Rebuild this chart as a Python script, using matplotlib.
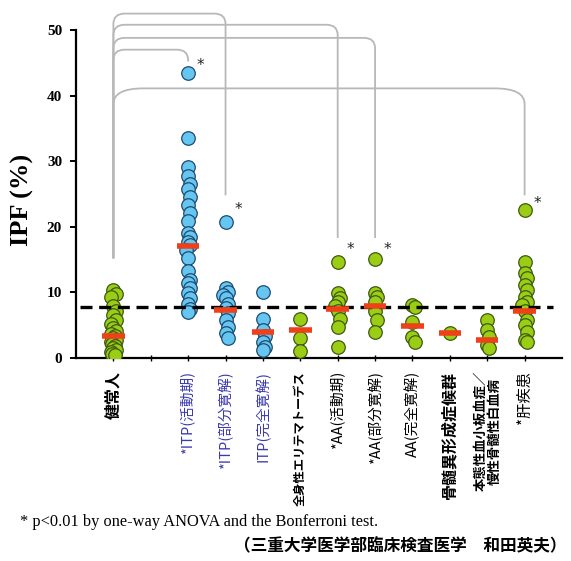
import matplotlib
matplotlib.use("Agg")
import matplotlib.pyplot as plt
from matplotlib.path import Path
from matplotlib.patches import PathPatch

# ---------------- data ----------------
categories = ["健常人", "", "*ITP(活動期)", "*ITP(部分寛解)", "ITP(完全寛解)",
              "全身性エリテマトーデス", "*AA(活動期)", "*AA(部分寛解)", "AA(完全寛解)",
              "骨髄異形成症候群", "本態性血小板血症／\n慢性骨髄性白血病", "*肝疾患"]

healthy = [10.3, 9.8, 9.3, 8.0, 7.2, 6.5, 5.8, 5.2, 4.6, 4.1, 3.7, 3.3, 3.0, 2.7,
           2.4, 2.1, 1.8, 1.5, 1.2, 0.9, 0.6, 0.4]
itp_active = [43.5, 33.5, 29.1, 27.7, 26.6, 25.7, 24.6, 23.3, 22.1, 20.9, 19.1, 18.5,
              17.7, 17.2, 16.5, 15.2, 13.2, 11.9, 11.4, 10.6, 9.9, 9.1, 8.3, 7.5, 7.0]
itp_partial = [20.7, 10.6, 10.1, 9.6, 9.1, 8.3, 7.6, 6.9, 5.8, 4.8, 3.8, 3.0]
itp_complete = [10.1, 6.0, 4.3, 3.3, 2.5, 1.7, 1.2]
sle = [6.0, 3.0, 1.1]
aa_active = [14.7, 9.9, 9.1, 8.5, 7.9, 7.1, 6.0, 4.8, 1.7]
aa_partial = [15.1, 9.9, 9.3, 8.6, 7.1, 5.8, 4.0]
aa_complete = [8.1, 7.8, 5.5, 3.2, 2.5]
mds = [3.8]
et_cml = [5.8, 4.3, 3.2, 2.0, 1.5]
liver = [22.6, 14.7, 12.9, 12.2, 11.1, 10.4, 9.3, 8.6, 8.1, 7.1, 5.8, 5.0, 4.0, 2.7, 2.5]

group_positions = [1, 3, 4, 5, 6, 7, 8, 9, 10, 11, 12]
group_values = [healthy, itp_active, itp_partial, itp_complete, sle, aa_active,
                aa_partial, aa_complete, mds, et_cml, liver]
group_means = [3.3, 17.1, 7.3, 4.0, 4.3, 7.4, 7.9, 4.9, 3.8, 2.7, 7.1]
group_is_itp = [False, True, True, True, False, False, False, False, False, False, False]

cutoff = 7.7
y_ticks = [0, 10, 20, 30, 40, 50]

# significance brackets from 健常人 (position 1)
bracket_targets = [4, 7, 8, 3, 12]
bracket_heights = [52.5, 50.8, 48.8, 47.0, 41.1]
bracket_ends = [24.8, 18.3, 18.3, 45.2, 24.8]
healthy_line_bottom = 15.2
star_positions = [3, 4, 7, 8, 12]
star_heights = [44.6, 22.6, 16.6, 16.6, 23.6]

# ---------------- styling ----------------
GREEN = "#9acd14"
GREEN_EDGE = "#3d5a12"
BLUE = "#66c6f2"
BLUE_EDGE = "#1f4a6e"
RED = "#f0401a"
GRAY = "#b8b8b8"
ITP_TEXT = "#3b3bb0"

W, H = 571, 561
fig = plt.figure(figsize=(W / 100, H / 100), dpi=100)
ax_left, ax_right, ax_bottom = 76, 562, 358
ax = fig.add_axes([ax_left / W, 1 - ax_bottom / H, (ax_right - ax_left) / W, ax_bottom / H])
ax.set_xlim(0, 13)
ymax = 358 / 6.56
ax.set_ylim(0, ymax)


def swarm_offsets(vals, step=0.06, gap=1.3):
    pattern = [0, step, -step, step * 0.5, -step * 0.5, step * 1.5, -step * 1.5]
    offs = []
    for i, v in enumerate(vals):
        used = [offs[j] for j in range(i) if abs(vals[j] - v) < gap]
        for p in pattern:
            if all(abs(p - u) > 1e-9 for u in used):
                offs.append(p)
                break
        else:
            offs.append(0)
    return offs


for pos, vals, is_itp in zip(group_positions, group_values, group_is_itp):
    offs = swarm_offsets(vals)
    xs = [pos + o for o in offs]
    ax.scatter(xs, vals, s=95, c=BLUE if is_itp else GREEN,
               edgecolors=BLUE_EDGE if is_itp else GREEN_EDGE, linewidths=0.9, zorder=3)

for pos, m in zip(group_positions, group_means):
    ax.plot([pos - 0.3, pos + 0.3], [m, m], color=RED, lw=4, solid_capstyle="butt", zorder=5)

ax.plot([0.1, 12.75], [cutoff, cutoff], color="black", lw=2.4, dashes=(3.6, 2.0), zorder=4)


def bracket(x1, x2, h, y_end, rx=0.3, ry=1.6):
    verts = [(x1, healthy_line_bottom), (x1, h - ry), (x1, h), (x1 + rx, h),
             (x2 - rx, h), (x2, h), (x2, h - ry), (x2, y_end)]
    codes = [Path.MOVETO, Path.LINETO, Path.CURVE3, Path.CURVE3,
             Path.LINETO, Path.CURVE3, Path.CURVE3, Path.LINETO]
    ax.add_patch(PathPatch(Path(verts, codes), fill=False, edgecolor=GRAY, lw=1.3,
                           zorder=1, clip_on=False))


for tgt, h, ye in zip(bracket_targets, bracket_heights, bracket_ends):
    if tgt == 12:
        bracket(1, tgt, h, ye, rx=0.8, ry=2.4)
    else:
        bracket(1, tgt, h, ye)

for sp, sh in zip(star_positions, star_heights):
    ax.text(sp + 0.33, sh, "*", fontsize=11, ha="center", va="center",
            family="DejaVu Sans", color="#222222")

# axes styling
for s in ["top", "right"]:
    ax.spines[s].set_visible(False)
ax.spines["left"].set_bounds(0, 50)
ax.spines["left"].set_linewidth(1.6)
ax.spines["bottom"].set_linewidth(1.6)
ax.set_yticks(y_ticks)
ax.set_yticklabels([str(t) for t in y_ticks], family="Liberation Serif",
                   fontweight="bold", fontsize=11)
ax.tick_params(axis="y", direction="out", length=4, width=1.4, pad=6)
ax.set_xticks(range(1, 13))
ax.set_xticklabels([])
ax.tick_params(axis="x", direction="inout", length=5, width=1.0)

fig.text(22 / W, 1 - 200 / H, "IPF (%)", rotation=90, ha="center", va="center",
         family="Liberation Serif", fontweight="bold", fontsize=19)

label_sizes = [11.5, 11, 10.5, 10.5, 10.5, 8.8, 10.5, 10.5, 10.5, 11.5, 9.6, 11]
for i, (lab, fs) in enumerate(zip(categories, label_sizes)):
    if not lab:
        continue
    color = ITP_TEXT if "ITP" in lab else "black"
    weight = "bold" if i in (0, 5, 9, 10) else "normal"
    ax.text(i + 1, -2.0, lab, rotation=90, ha="center", va="top", fontsize=fs,
            color=color, fontweight=weight, linespacing=1.0,
            family=["Noto Sans CJK JP", "DejaVu Sans"], clip_on=False)

fig.text(20 / W, 1 - 522 / H, "* p<0.01 by one-way ANOVA and the Bonferroni test.",
         ha="left", va="center", family="Liberation Serif", fontsize=11.8)
fig.text(566 / W, 1 - 546 / H, "（三重大学医学部臨床検査医学　和田英夫）",
         ha="right", va="center", family=["Noto Sans CJK JP", "DejaVu Sans"],
         fontweight="bold", fontsize=12)

fig.savefig("out.png", dpi=100)
